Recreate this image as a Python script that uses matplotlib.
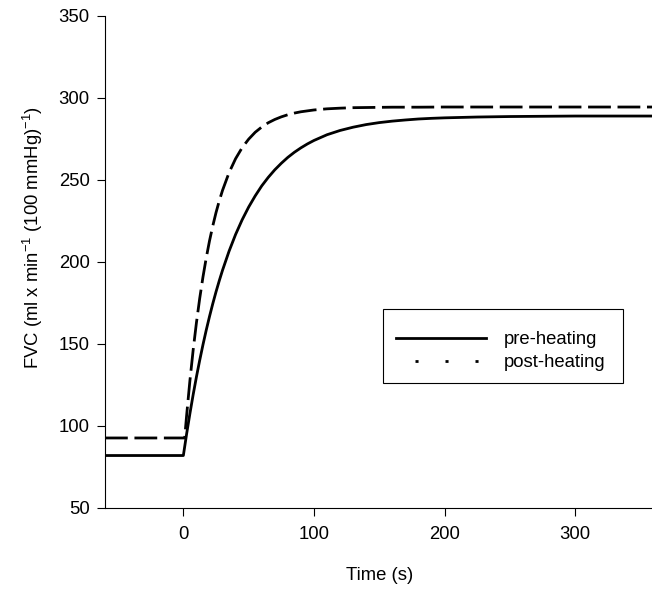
import matplotlib
matplotlib.use('Agg')
import matplotlib.pyplot as plt
from matplotlib.lines import Line2D
from matplotlib.patches import Rectangle

plt.rcParams['font.family'] = ['Liberation Sans', 'DejaVu Sans']
plt.rcParams['mathtext.fontset'] = 'custom'
plt.rcParams['mathtext.rm'] = 'Liberation Sans'
plt.rcParams['mathtext.it'] = 'Liberation Sans'

# values
pre_t = [-60, 0, 2.5, 5, 7.5, 10, 12.5, 15, 17.5, 20, 22.5, 25, 27.5, 30, 35,
         40, 45, 50, 55, 60, 65, 70, 75, 80, 85, 90, 95, 100, 110, 120, 130,
         140, 150, 160, 170, 180, 190, 200, 225, 250, 300, 360]
pre_fvc = [82.0, 82.0, 95.2, 107.5, 119.1, 129.9, 140.0, 149.5, 158.4, 166.7,
           174.5, 181.8, 188.6, 195.0, 206.6, 216.8, 225.7, 233.5, 240.3,
           246.4, 251.6, 256.2, 260.2, 263.8, 266.9, 269.6, 272.0, 274.1,
           277.6, 280.2, 282.2, 283.8, 285.0, 285.9, 286.6, 287.2, 287.6,
           287.9, 288.4, 288.7, 289.0, 289.0]

post_t = [-60, 1, 2.5, 5, 7.5, 10, 12.5, 15, 17.5, 20, 22.5, 25, 27.5, 30, 35,
          40, 45, 50, 55, 60, 65, 70, 75, 80, 85, 90, 100, 110, 120, 130,
          140, 160, 180, 200, 250, 300, 360]
post_fvc = [92.7, 92.7, 106.4, 127.5, 146.3, 162.9, 177.7, 190.8, 202.4, 212.8,
            221.9, 230.1, 237.3, 243.7, 254.5, 263.0, 269.7, 274.9, 279.1,
            282.3, 284.9, 286.9, 288.5, 289.8, 290.8, 291.6, 292.7, 293.4,
            293.8, 294.1, 294.2, 294.4, 294.4, 294.5, 294.5, 294.5, 294.5]

labels = ['pre-heating', 'post-heating']

fs = 13.3
fig = plt.figure(figsize=(6.52, 5.92), dpi=100)
ax = fig.add_axes([105 / 652, 84 / 592, 548.5 / 652, 492 / 592])

lw = 2.0
ax.plot(pre_t, pre_fvc, color='black', lw=lw)
ax.plot(post_t, post_fvc, color='black', lw=lw, linestyle=(0, (8.2, 2.4)),
        dash_capstyle='butt')

ax.set_xlim(-60, 360)
ax.set_ylim(50, 350)
ax.set_xticks([0, 100, 200, 300])
ax.set_yticks([50, 100, 150, 200, 250, 300, 350])

for s in ['top', 'right']:
    ax.spines[s].set_visible(False)
for s in ['left', 'bottom']:
    ax.spines[s].set_linewidth(0.8)
ax.tick_params(direction='out', length=6, width=0.8, labelsize=fs, colors='black')
ax.tick_params(axis='x', pad=7)
ax.tick_params(axis='y', pad=5)

ax.set_xlabel('Time (s)', fontsize=fs)
ax.xaxis.set_label_coords(0.5, -(575 - 508) / 492)
ax.xaxis.label.set_va('center')
ax.set_ylabel('FVC (ml x min$^{-1}$ (100 mmHg)$^{-1}$)', fontsize=fs)
ax.yaxis.set_label_coords((33 - 105) / 548.5, (508 - 237) / 492)
ax.yaxis.label.set_va('center')

# legend frame drawn separately so the padding can be uneven like the original
box = Rectangle((383 / 652, 1 - 383 / 592), 240 / 652, 74 / 592,
                transform=fig.transFigure, facecolor='white', edgecolor='black',
                lw=0.8, zorder=4)
fig.add_artist(box)

h1 = Line2D([], [], color='black', lw=lw)
h2 = Line2D([], [], color='black', lw=lw, linestyle=(3.96, (1.1, 9.7)),
            dash_capstyle='butt')
leg = ax.legend([h1, h2], labels, loc='upper left',
                bbox_to_anchor=(396 / 652, 1 - 331 / 592), bbox_transform=fig.transFigure,
                fontsize=fs, frameon=False, handlelength=4.85, handletextpad=1.0,
                labelspacing=0.35, borderpad=0, borderaxespad=0)
leg.set_zorder(5)
fig.add_artist(leg)

fig.savefig('out.png', dpi=100)
